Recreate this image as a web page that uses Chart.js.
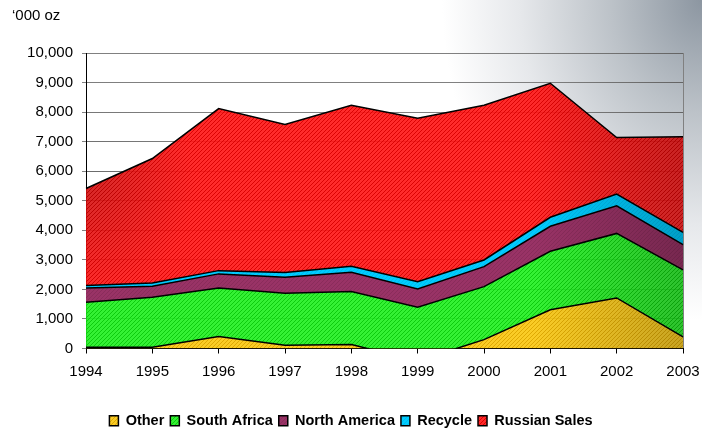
<!DOCTYPE html>
<html>
<head>
<meta charset="utf-8">
<script src="https://cdn.jsdelivr.net/npm/chart.js@4/dist/chart.umd.min.js"></script>
<style>
  html, body { margin: 0; padding: 0; }
  body {
    width: 702px; height: 434px; overflow: hidden;
    background: radial-gradient(ellipse 260px 320px at 702px 0px, #8c96a1 0%, #bcc2c8 35%, #e6e8eb 70%, #ffffff 100%);
  }
  canvas { display: block; }
</style>
</head>
<body>
<canvas id="goldChart" width="702" height="434"></canvas>
<script>
const years = ['1994', '1995', '1996', '1997', '1998', '1999', '2000', '2001', '2002', '2003'];
const other = [40, 40, 405, 110, 135, -420, 300, 1310, 1710, 390];
const southAfrica = [1525, 1695, 1645, 1760, 1790, 1815, 1795, 1980, 2185, 2270];
const northAmerica = [485, 370, 475, 540, 655, 620, 675, 845, 935, 855];
const recycle = [80, 115, 110, 160, 200, 245, 225, 305, 395, 415];
const russianSales = [3285, 4210, 5485, 5010, 5450, 5530, 5235, 4535, 1915, 3240];

function hatch(base, stripe) {
  const c = document.createElement('canvas');
  c.width = 4; c.height = 4;
  const g = c.getContext('2d');
  g.fillStyle = base;
  g.fillRect(0, 0, 4, 4);
  g.strokeStyle = stripe;
  g.lineWidth = 1;
  g.beginPath();
  g.moveTo(-1, 5); g.lineTo(5, -1);
  g.stroke();
  return g.createPattern(c, 'repeat');
}

function series(label, data, fillColor, fill) {
  return {
    label: label,
    data: data,
    backgroundColor: fillColor,
    borderColor: '#000',
    borderWidth: 1.5,
    pointRadius: 0,
    tension: 0,
    fill: fill
  };
}

// darken the fills a little toward the right edge and the top-left corner
const shade = {
  id: 'shade',
  afterDatasetsDraw(chart) {
    const a = chart.chartArea;
    const g = chart.ctx;
    g.save();
    g.beginPath();
    g.rect(a.left, a.top, a.right - a.left, a.bottom - a.top);
    g.clip();
    g.globalCompositeOperation = 'source-atop';
    const lin = g.createLinearGradient(a.right - 150, 0, a.right, 0);
    lin.addColorStop(0, 'rgba(0,0,0,0)');
    lin.addColorStop(1, 'rgba(0,0,0,0.22)');
    g.fillStyle = lin;
    g.fillRect(a.right - 150, a.top, 150, a.bottom - a.top);
    const rad = g.createRadialGradient(a.left, a.top + 130, 0, a.left, a.top + 130, 110);
    rad.addColorStop(0, 'rgba(0,0,0,0.18)');
    rad.addColorStop(1, 'rgba(0,0,0,0)');
    g.fillStyle = rad;
    g.fillRect(a.left, a.top, 120, 250);
    g.restore();
  }
};

const font = "Arial, 'Liberation Sans', sans-serif";
const ctx = document.getElementById('goldChart').getContext('2d');

new Chart(ctx, {
  type: 'line',
  data: {
    labels: years,
    datasets: [
      series('Other', other, hatch('rgba(250,200,20,0.92)', 'rgba(220,165,0,0.9)'), 'origin'),
      series('South Africa', southAfrica, hatch('rgba(30,240,30,0.9)', 'rgba(10,200,10,0.9)'), '-1'),
      series('North America', northAmerica, hatch('#993366', '#8a2c5b'), '-1'),
      series('Recycle', recycle, hatch('#00ccff', '#00bbee'), '-1'),
      series('Russian Sales', russianSales, hatch('rgba(255,20,20,0.9)', 'rgba(215,0,0,0.9)'), '-1')
    ]
  },
  options: {
    responsive: false,
    animation: false,
    layout: {
      padding: { left: 12, right: 12, top: 7, bottom: -4 }
    },
    scales: {
      x: {
        offset: false,
        grid: {
          drawOnChartArea: true,
          color: (c) => c.index === years.length - 1 ? '#808080' : 'rgba(0,0,0,0)',
          tickColor: '#000',
          tickLength: 5
        },
        border: { color: '#000', width: 1 },
        ticks: {
          color: '#000',
          font: { family: font, size: 15 },
          padding: 9,
          maxRotation: 0
        },
        afterFit: (scale) => {
          scale.height = 59;
          scale.paddingRight = 19;
        }
      },
      y: {
        stacked: 'single',
        min: 0,
        max: 10000,
        grid: {
          color: '#808080',
          tickColor: '#808080',
          tickLength: 4
        },
        border: { color: '#000', width: 1 },
        ticks: {
          stepSize: 1000,
          color: '#000',
          padding: 9,
          font: { family: font, size: 15 }
        },
        afterFit: (scale) => { scale.width = 74; }
      }
    },
    plugins: {
      title: {
        display: true,
        text: '\u2018000 oz',
        align: 'start',
        color: '#000',
        font: { family: font, size: 15, weight: 'normal' },
        padding: { top: 0, bottom: 28 }
      },
      legend: {
        position: 'bottom',
        labels: {
          color: '#000',
          boxWidth: 9,
          boxHeight: 10,
          padding: 6,
          font: { family: font, size: 14.5, weight: 'bold' }
        }
      },
      tooltip: { enabled: false }
    }
  },
  plugins: [shade]
});
</script>
</body>
</html>
